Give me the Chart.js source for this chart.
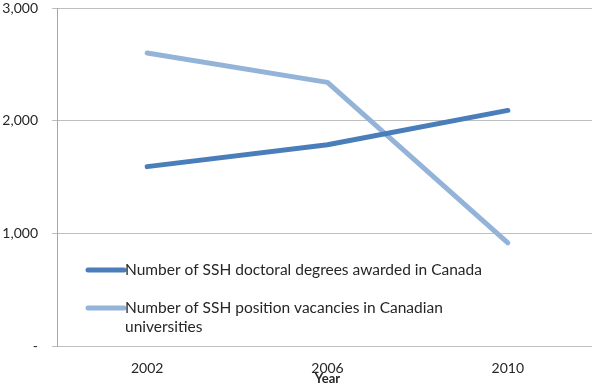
<!DOCTYPE html>
<html>
<head>
<meta charset="utf-8">
<script src="https://cdn.jsdelivr.net/npm/chart.js@4.4.0/dist/chart.umd.min.js"></script>
<style>
  html, body { margin: 0; padding: 0; background: #fff; overflow: hidden; }
  #wrap { width: 592px; height: 387px; overflow: hidden; }
</style>
</head>
<body>
<div id="wrap"><canvas id="sshChart" width="598" height="387"></canvas></div>
<script>
// data
const years = ['2002', '2006', '2010'];
const doctoralDegrees = [1592, 1786, 2091];
const positionVacancies = [2601, 2340, 916];
const yTicks = [0, 1000, 2000, 3000];

const seriesNames = [
    'Number of SSH doctoral degrees awarded in Canada',
    'Number of SSH position vacancies in Canadian universities'
];

const FONT = 'Lato, "Open Sans", sans-serif';

// legend drawn inside the plot, lower left, with wrapping
const insideLegend = {
    id: 'insideLegend',
    afterDraw(chart) {
        const ctx = chart.ctx;
        const x0 = 88, swatchEnd = 124, maxW = 362;
        let y = 270;
        ctx.save();
        ctx.font = '15.5px ' + FONT;
        ctx.textBaseline = 'middle';
        chart.data.datasets.forEach((ds) => {
            ctx.strokeStyle = ds.borderColor;
            ctx.lineWidth = 5;
            ctx.lineCap = 'round';
            ctx.beginPath();
            ctx.moveTo(x0, y);
            ctx.lineTo(swatchEnd, y);
            ctx.stroke();
            // wrap words
            const words = ds.label.split(' ');
            let line = '', lines = [];
            words.forEach((w) => {
                const test = line ? line + ' ' + w : w;
                if (ctx.measureText(test).width > maxW && line) {
                    lines.push(line);
                    line = w;
                } else {
                    line = test;
                }
            });
            lines.push(line);
            ctx.fillStyle = '#262626';
            lines.forEach((l, i) => ctx.fillText(l, swatchEnd + 1, y + i * 19));
            y += 38;
        });
        ctx.restore();
    }
};

const ctx = document.getElementById('sshChart').getContext('2d');

new Chart(ctx, {
    type: 'line',
    data: {
        labels: years,
        datasets: [
            {
                label: seriesNames[0],
                data: doctoralDegrees,
                borderColor: '#4a7ebb',
                backgroundColor: '#4a7ebb',
                borderWidth: 5,
                borderCapStyle: 'round',
                borderJoinStyle: 'round',
                pointRadius: 0,
                tension: 0,
                fill: false
            },
            {
                label: seriesNames[1],
                data: positionVacancies,
                borderColor: '#93b3d9',
                backgroundColor: '#93b3d9',
                borderWidth: 5,
                borderCapStyle: 'round',
                borderJoinStyle: 'round',
                pointRadius: 0,
                tension: 0,
                fill: false
            }
        ]
    },
    options: {
        responsive: false,
        animation: false,
        devicePixelRatio: 1,
        layout: { padding: { top: 8, right: 0, left: 0, bottom: 0 } },
        plugins: {
            legend: { display: false },
            tooltip: { enabled: false }
        },
        scales: {
            x: {
                offset: true,
                grid: {
                    display: true,
                    drawOnChartArea: false,
                    drawTicks: false,
                    color: '#bfbfbf'
                },
                border: { color: '#bfbfbf', width: 1 },
                ticks: {
                    color: '#262626',
                    padding: 14,
                    maxRotation: 0,
                    font: { size: 14, family: FONT }
                },
                title: {
                    display: true,
                    text: 'Year',
                    color: '#262626',
                    padding: { top: -3, bottom: 0 },
                    font: { size: 13, weight: 'bold', family: FONT }
                },
                afterFit(scale) {
                    scale.height = 41;
                    scale.paddingLeft = 0;
                    scale.paddingRight = 0;
                }
            },
            y: {
                min: 0,
                max: 3000,
                afterBuildTicks(scale) {
                    scale.ticks = yTicks.map((v) => ({ value: v }));
                },
                grid: {
                    color: '#bfbfbf',
                    tickLength: 5,
                    drawTicks: true
                },
                border: { color: '#a6a6a6', width: 1 },
                ticks: {
                    color: '#262626',
                    padding: 14,
                    font: { size: 14, family: FONT },
                    callback: function (value) {
                        return value === 0 ? '-' : value.toLocaleString('en-US');
                    }
                },
                afterFit(scale) {
                    scale.width = 57;
                    scale.paddingTop = 0;
                    scale.paddingBottom = 0;
                }
            }
        }
    },
    plugins: [insideLegend]
});
</script>
</body>
</html>
